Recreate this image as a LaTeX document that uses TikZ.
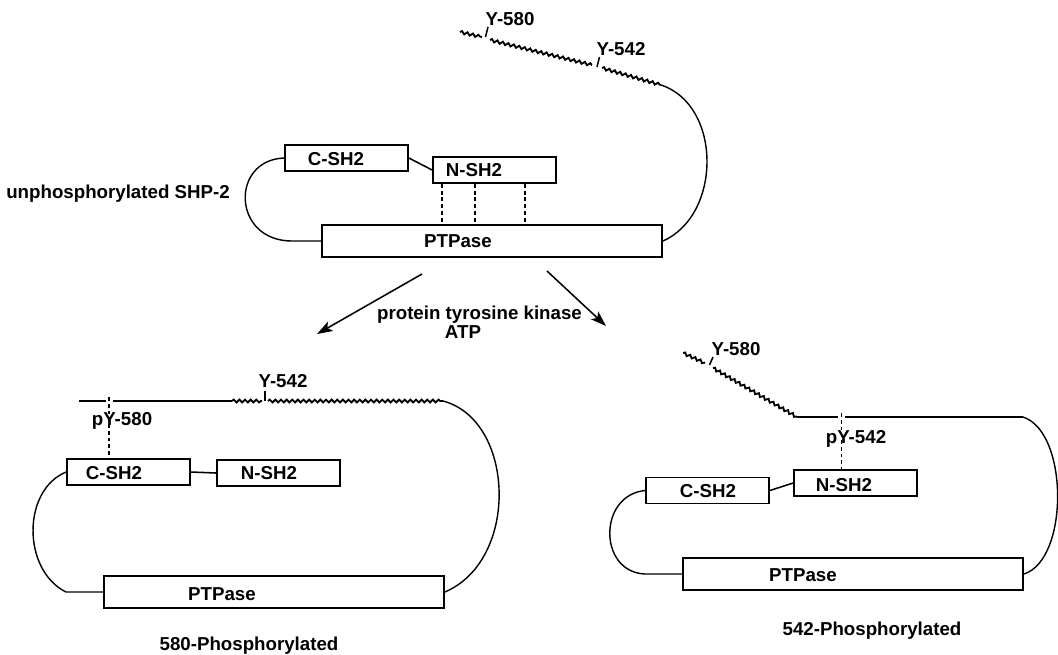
\documentclass[tikz,border=0pt]{standalone}
\usepackage{fontspec}
\setmainfont{Liberation Sans}
\usetikzlibrary{
  arrows.meta,
  decorations.pathmorphing
}
\tikzset{
  sh2box/.style={
    draw,
    line width=1.2pt,
    minimum width=3.075cm,
    minimum height=0.65cm,
    inner sep=0pt
  },
  ptpbox/.style={
    sh2box,
    minimum width=8.5cm,
    minimum height=0.8cm
  },
  dom/.style={inner sep=1pt},
  tag/.style={inner sep=0pt, anchor=base},
  chain/.style={line width=1.1pt},
  loop/.style={line width=1pt},
  wavy/.style={
    line width=1.3pt,
    decorate,
    decoration={snake, segment length=4pt, amplitude=1pt}
  },
  tick/.style={line width=1.1pt},
  bond/.style={line width=1.2pt, dash pattern=on 2.8pt off 2pt},
  react/.style={
    -{Stealth[length=11pt, width=7.5pt, inset=2.5pt]},
    line width=1.1pt
  }
}

\begin{document}
\begin{tikzpicture}[x=0.025cm, y=-0.025cm, font=\fontsize{13.3}{16}\selectfont\bfseries]
  \useasboundingbox (0,0) rectangle (1058,654);

  % unphosphorylated SHP-2
  \node[sh2box] (cA) at (346.5,158) {};
  \node[sh2box] (nA) at (494.5,170) {};
  \node[ptpbox] (pA) at (492,241) {};
  \node[dom] (cAt) at (336,159) {C-SH2};
  \node[dom] (nAt) at (474,170) {N-SH2};
  \node[dom] (pAt) at (458,241) {PTPase};
  \node[tag] (unph) at (118,198) {unphosphorylated SHP-2};

  \coordinate (a0) at (460,32);
  \coordinate (a1) at (482,37);
  \coordinate (a2) at (490,40);
  \coordinate (a3) at (592,65);
  \coordinate (a4) at (602,68);
  \coordinate (a5) at (661,85);
  \draw[wavy] (a0) -- (a1);
  \draw[tick] (485.5,37) -- (488,27);
  \draw[wavy] (a2) -- (a3);
  \draw[tick] (597,67) -- (599.5,57);
  \draw[wavy] (a4) -- (a5);
  \draw[loop] (a5) .. controls (722,105) and (722,215) .. (pA.east);
  \node[tag] (yA580) at (510,25) {Y-580};
  \node[tag] (yA542) at (621,55) {Y-542};

  \draw[chain] (cA.east) -- (nA.west);
  \draw[loop] (cA.west) .. controls (230,160) and (232,241) .. (292,241) -- (pA.west);
  \foreach \x in {442,475,525}
    \draw[bond] (nA.south -| \x,0) -- (pA.north -| \x,0);

  % kinase step
  \coordinate (kL0) at (422,274);
  \coordinate (kL1) at (317,334);
  \coordinate (kR0) at (547,271);
  \coordinate (kR1) at (606,326);
  \draw[react] (kL0) -- (kL1);
  \draw[react] (kR0) -- (kR1);
  \node[tag] (ptk) at (479.5,319) {protein tyrosine kinase};
  \node[tag] (atp) at (463,338) {ATP};

  % 580-phosphorylated form
  \node[sh2box] (cB) at (128.5,472) {};
  \node[sh2box] (nB) at (278.5,473) {};
  \node[ptpbox] (pB) at (274,592) {};
  \node[dom] (cBt) at (114,473) {C-SH2};
  \node[dom] (nBt) at (269,473) {N-SH2};
  \node[dom] (pBt) at (222,594) {PTPase};

  \coordinate (b0) at (79,401);
  \coordinate (b1) at (105.5,401);
  \coordinate (pyB) at (109,397);
  \coordinate (b2) at (112.5,401);
  \coordinate (b3) at (232,401);
  \coordinate (b4) at (262,401);
  \coordinate (b5) at (268,401);
  \coordinate (b6) at (443,401);
  \draw[chain] (b0) -- (b1);
  \draw[chain] (b2) -- (b3);
  \draw[wavy] (b3) -- (b4);
  \draw[tick] (265,391) -- (265,401);
  \draw[wavy] (b5) -- (b6);
  \draw[bond] (pyB) -- (pyB |- cB.north);
  \draw[loop] (b6) .. controls (515,420) and (520,560) .. (pB.east);
  \node[tag] (yB542) at (283,387) {Y-542};
  \node[tag] (pyB580) at (122,425) {pY-580};

  \draw[chain] (cB.east) -- (nB.west);
  \draw[loop] (cB.west) .. controls (22,490) and (22,570) .. (66,592) -- (pB.west);
  \node[tag] (phB) at (249,650) {580-Phosphorylated};

  % 542-phosphorylated form
  \node[sh2box] (cC) at (707.5,490.5) {};
  \node[sh2box] (nC) at (855.5,483) {};
  \node[ptpbox] (pC) at (853,574) {};
  \node[dom] (cCt) at (708,491) {C-SH2};
  \node[dom] (nCt) at (844,485) {N-SH2};
  \node[dom] (pCt) at (803,575) {PTPase};

  \coordinate (c0) at (683,353);
  \coordinate (c1) at (705,363);
  \coordinate (c2) at (713,368);
  \coordinate (c3) at (797,417);
  \coordinate (c4) at (838,417);
  \coordinate (pyC) at (841.5,413);
  \coordinate (c5) at (845,417);
  \coordinate (c6) at (1023,417);
  \draw[wavy] (c0) -- (c1);
  \draw[tick] (709.5,365) -- (713,357);
  \draw[wavy] (c2) -- (c3);
  \draw[chain] (c3) -- (c4);
  \draw[chain] (c5) -- (c6);
  \draw[bond] (pyC) -- (pyC |- nC.north);
  \draw[loop] (c6) .. controls (1069,432) and (1069,560) .. (pC.east);
  \node[tag] (yC580) at (736,355) {Y-580};
  \node[tag] (pyC542) at (856,443) {pY-542};

  \draw[chain] (cC.east) -- (nC.west);
  \draw[loop] (cC.west) .. controls (598,495) and (598,572) .. (645,574) -- (pC.west);
  \node[tag] (phC) at (872,635) {542-Phosphorylated};
\end{tikzpicture}
\end{document}
